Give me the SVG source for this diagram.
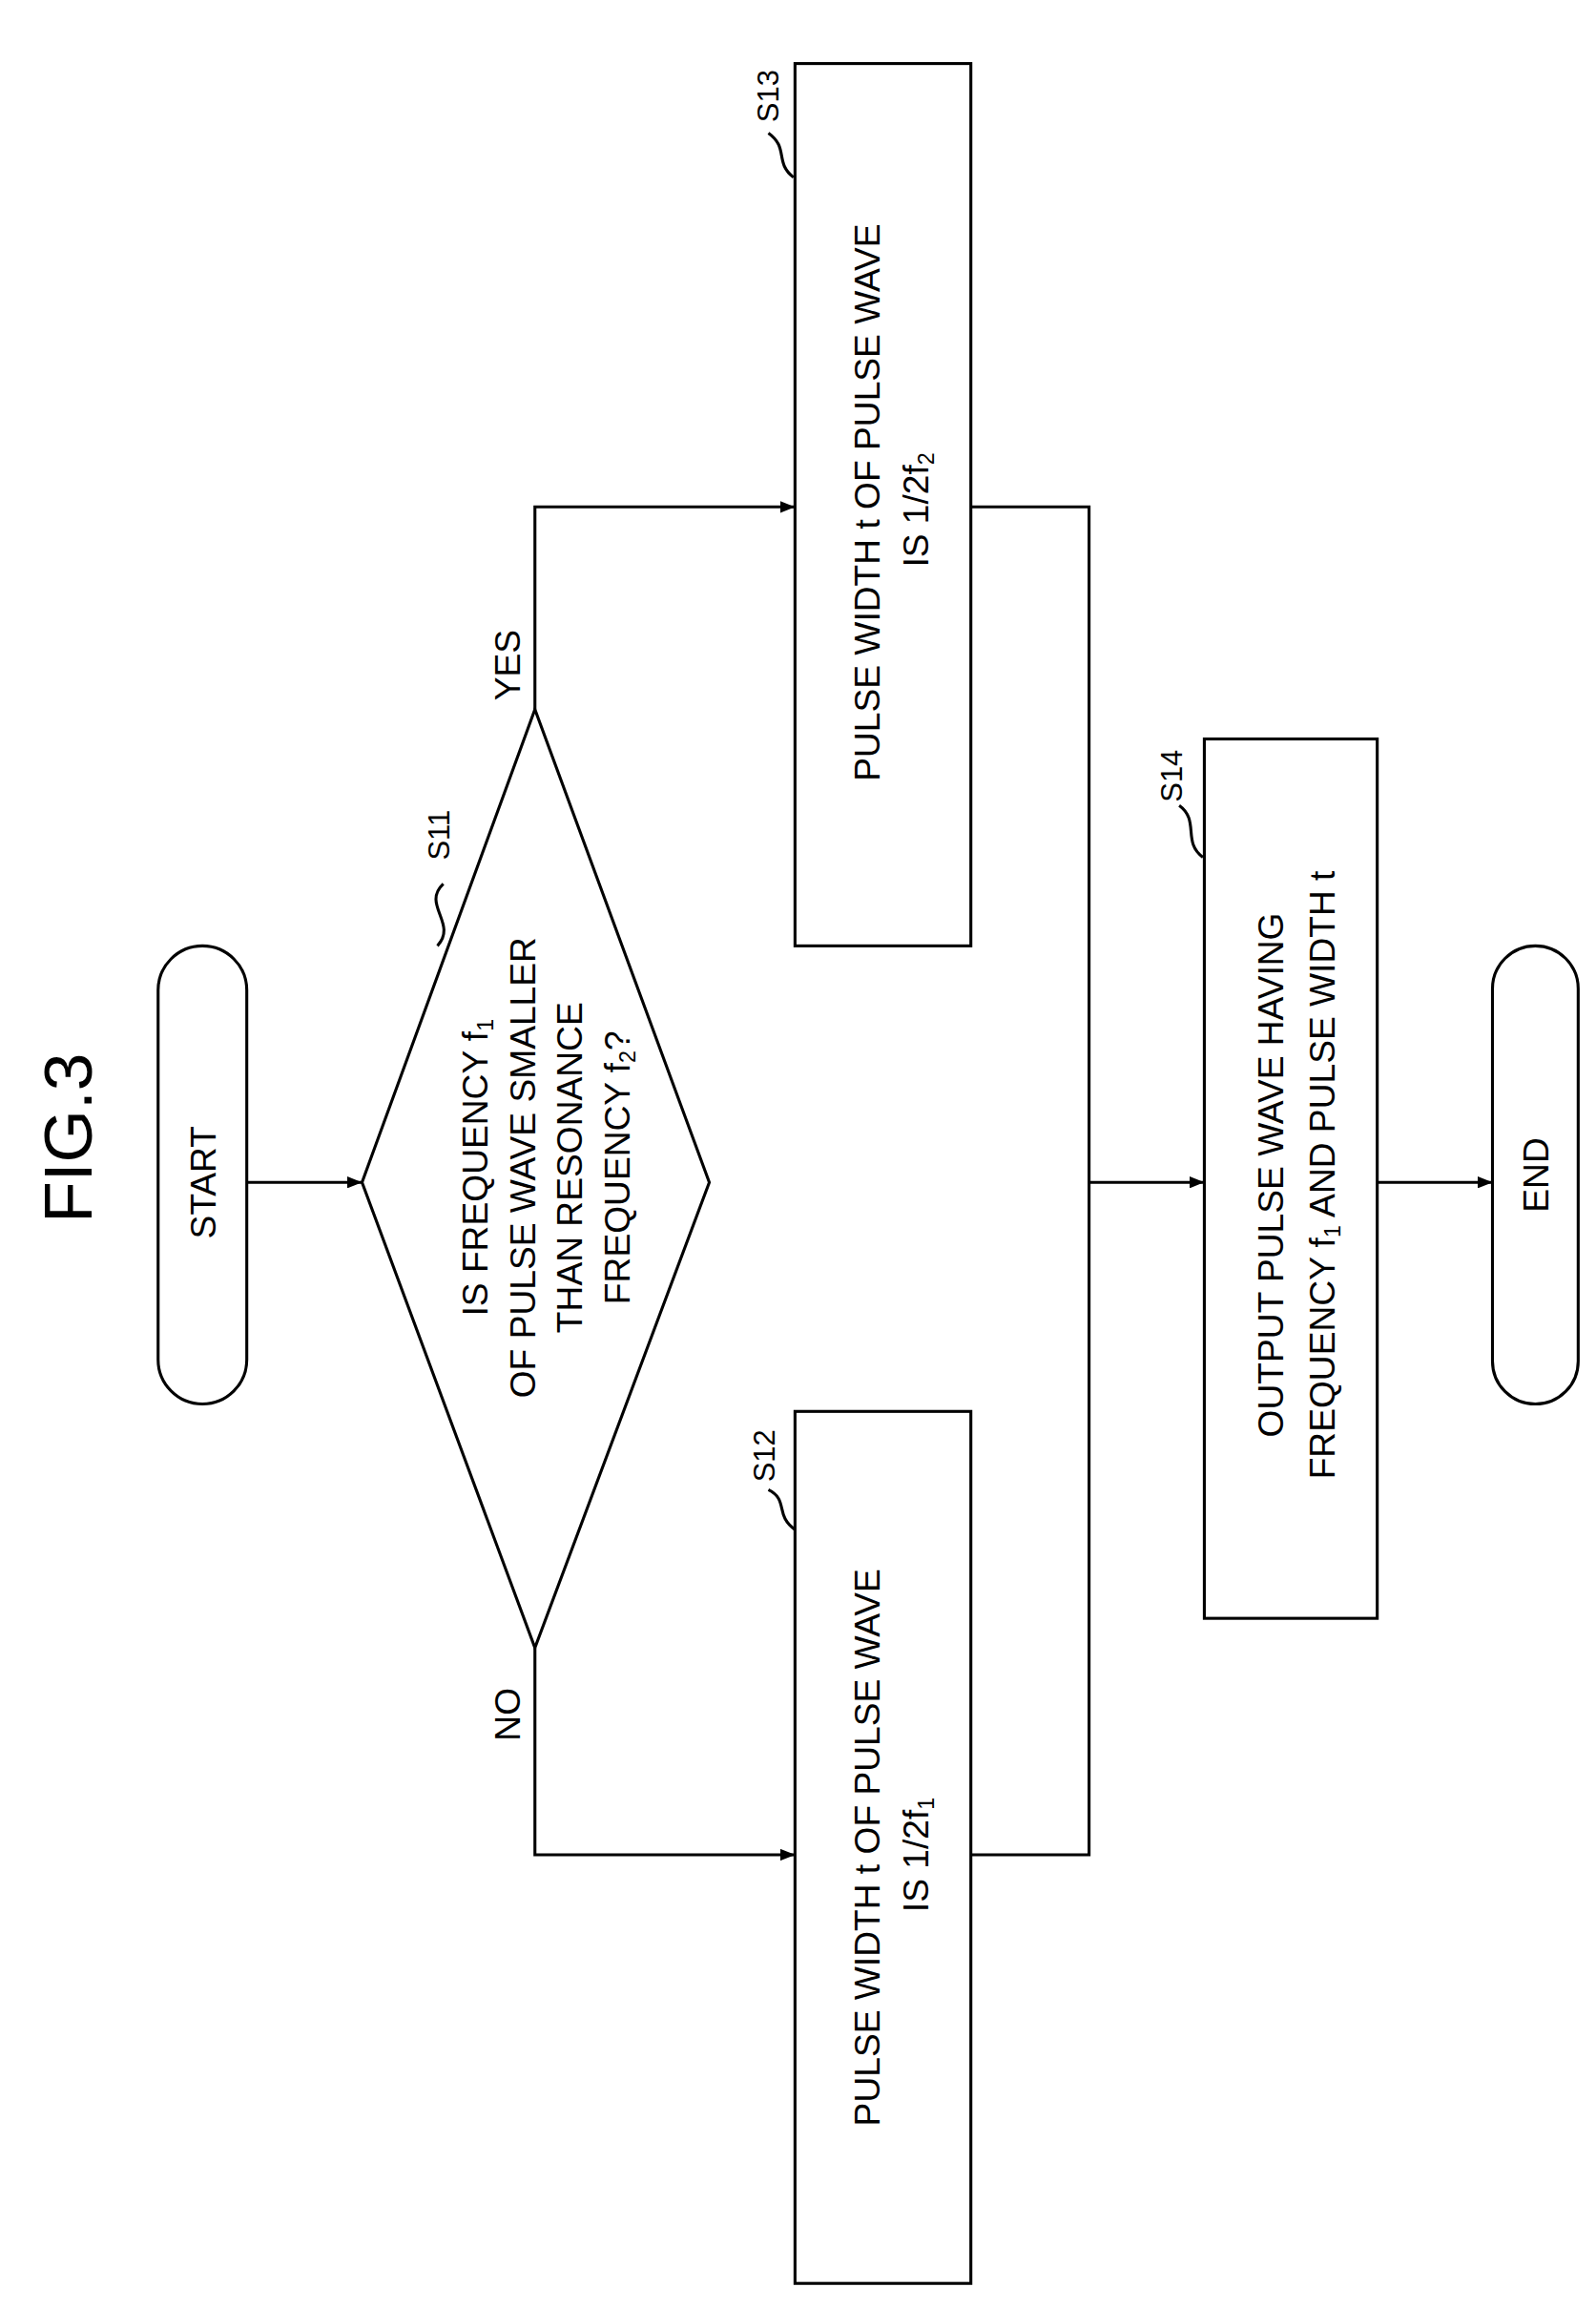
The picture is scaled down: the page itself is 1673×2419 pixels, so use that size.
<svg xmlns="http://www.w3.org/2000/svg" width="1673" height="2419" viewBox="0 0 1673 2419">
<style>
.s{fill:none;stroke:#000;stroke-width:2}
.t{font-family:"Liberation Sans",Arial,sans-serif;font-size:24px;fill:#000;text-anchor:middle}
.l{font-family:"Liberation Sans",Arial,sans-serif;font-size:20px;fill:#000;text-anchor:middle}
.sub{font-size:15px}
</style>
<defs><marker id="a" markerWidth="10" markerHeight="8" refX="10" refY="4" orient="auto" markerUnits="userSpaceOnUse"><path d="M0,0L10,4L0,8z" fill="#000"/></marker></defs>
<rect width="1673" height="2419" fill="#fff"/>
<g transform="scale(1.549)">
<text transform="translate(62,770) rotate(-90)" style="font-family:'Liberation Sans',Arial,sans-serif;font-size:46px;text-anchor:middle">FIG.3</text>
<g id="start"><rect class="s" x="107" y="640" width="60" height="310" rx="30"/><text class="t" transform="translate(146,800) rotate(-90)">START</text></g>
<g id="s11"><path class="s" d="M245,800L362,480L480,800L362,1115Z"/>
<text class="t" transform="translate(330,790) rotate(-90)">IS FREQUENCY f<tspan class="sub" dy="4">1</tspan></text>
<text class="t" transform="translate(362,790) rotate(-90)">OF PULSE WAVE SMALLER</text>
<text class="t" transform="translate(394,790) rotate(-90)">THAN RESONANCE</text>
<text class="t" transform="translate(426,790) rotate(-90)">FREQUENCY f<tspan class="sub" dy="4">2</tspan><tspan dy="-4">?</tspan></text>
<text class="l" transform="translate(304,565) rotate(-90)">S11</text><path class="s" stroke-width="1.5" d="M296,640C310,625 285,612 300,598"/></g>
<g id="s12"><rect class="s" x="538" y="955" width="119" height="590"/>
<text class="t" transform="translate(595,1250) rotate(-90)">PULSE WIDTH t OF PULSE WAVE</text>
<text class="t" transform="translate(628,1255) rotate(-90)">IS 1/2f<tspan class="sub" dy="4">1</tspan></text>
<text class="l" transform="translate(524,985) rotate(-90)">S12</text><path class="s" stroke-width="1.5" d="M538,1035C524,1025 534,1015 520,1008"/></g>
<g id="s13"><rect class="s" x="538" y="43" width="119" height="597"/>
<text class="t" transform="translate(595,340) rotate(-90)">PULSE WIDTH t OF PULSE WAVE</text>
<text class="t" transform="translate(628,345) rotate(-90)">IS 1/2f<tspan class="sub" dy="4">2</tspan></text>
<text class="l" transform="translate(527,65) rotate(-90)">S13</text><path class="s" stroke-width="1.5" d="M537,120C524,110 534,100 520,90"/></g>
<g id="s14"><rect class="s" x="815" y="500" width="117" height="595"/>
<text class="t" transform="translate(868,795) rotate(-90)">OUTPUT PULSE WAVE HAVING</text>
<text class="t" transform="translate(903,795) rotate(-90)">FREQUENCY f<tspan class="sub" dy="4">1</tspan><tspan dy="-4"> AND PULSE WIDTH t</tspan></text>
<text class="l" transform="translate(800,525) rotate(-90)">S14</text><path class="s" stroke-width="1.5" d="M814,580C800,570 812,555 798,545"/></g>
<g id="end"><rect class="s" x="1010" y="640" width="58" height="310" rx="29"/><text class="t" transform="translate(1048,795) rotate(-90)">END</text></g>
<g id="connectors">
<path class="s" marker-end="url(#a)" d="M167,800H245"/>
<path class="s" marker-end="url(#a)" d="M362,480V343H538"/>
<path class="s" marker-end="url(#a)" d="M362,1115V1255H538"/>
<path class="s" d="M657,343H737V1255H657"/>
<path class="s" marker-end="url(#a)" d="M737,800H815"/>
<path class="s" marker-end="url(#a)" d="M932,800H1010"/>
<text class="t" transform="translate(352,450) rotate(-90)">YES</text>
<text class="t" transform="translate(352,1160) rotate(-90)">NO</text>
</g>
</g>
</svg>
